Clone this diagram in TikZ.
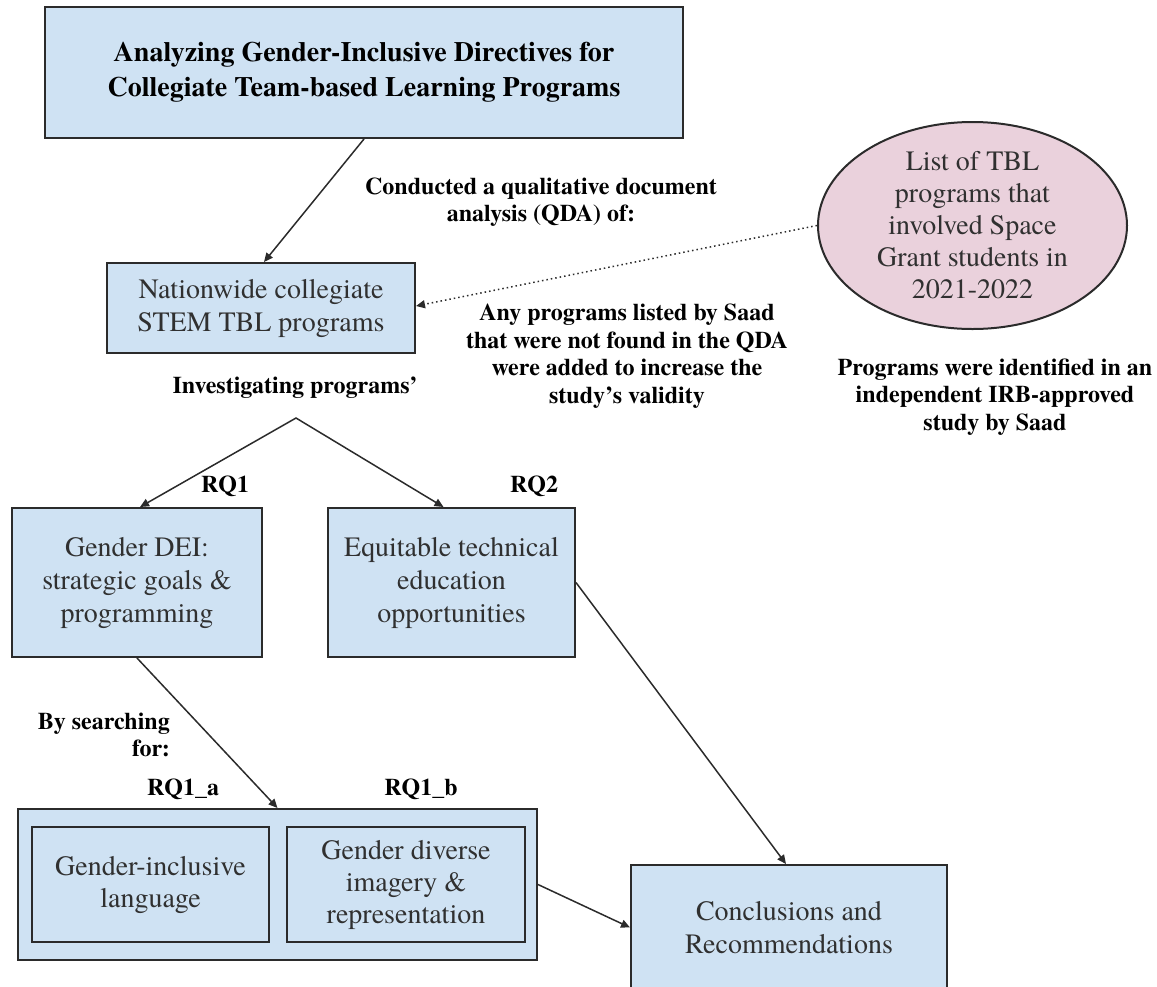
\documentclass[tikz,border=0pt]{standalone}
\usepackage{fontspec}
\setmainfont{texgyretermes}[Extension=.otf,UprightFont=*-regular,BoldFont=*-bold,ItalicFont=*-italic,BoldItalicFont=*-bolditalic]
\usetikzlibrary{arrows.meta,shapes.geometric}
\definecolor{boxblue}{HTML}{CFE2F3}
\definecolor{boxpink}{HTML}{EAD1DC}
\definecolor{edgecol}{HTML}{2B2B2B}
\definecolor{txtcol}{HTML}{303030}
\begin{document}
\begin{tikzpicture}[x=1pt,y=-1pt,
  box/.style={draw=edgecol,line width=2pt,fill=boxblue,inner sep=0pt,align=center,text=txtcol,font=\fontsize{28}{33}\selectfont},
  lbl/.style={align=center,inner sep=0pt,text=black,font=\bfseries\fontsize{24}{27.5}\selectfont},
  arr/.style={draw=edgecol,line width=1.5pt,-{Triangle[length=9pt,width=8pt]}},
  arrboth/.style={draw=edgecol,line width=1.5pt,{Triangle[length=9pt,width=8pt]}-{Triangle[length=9pt,width=8pt]}},
  dots/.style={dash pattern=on 1.5pt off 3pt}
]
\useasboundingbox (0,0) rectangle (1157,986);
\clip (0,0) rectangle (1157,986);

% boxes
\node[box,text=black,font=\bfseries\fontsize{28}{35}\selectfont,minimum width=638pt,minimum height=131pt] (title) at (364,72.5)
  {Analyzing Gender-Inclusive Directives for\\Collegiate Team-based Learning Programs};
\node[box,minimum width=308pt,minimum height=90pt] (nat) at (261,308)
  {Nationwide collegiate\\STEM TBL programs};
\node[draw=edgecol,line width=2pt,fill=boxpink,ellipse,minimum width=309pt,minimum height=207pt,inner sep=-12pt,align=center,text=txtcol,font=\fontsize{28}{32}\selectfont] (ell) at (972.5,225.5)
  {List of TBL\\programs that\\involved Space\\Grant students in\\2021-2022};
\node[box,minimum width=250pt,minimum height=149pt] (dei) at (137,582.5)
  {Gender DEI:\\strategic goals \&\\programming};
\node[box,minimum width=247pt,minimum height=149pt] (eq) at (451.5,582.5)
  {Equitable technical\\education\\opportunities};
\node[box,minimum width=519pt,minimum height=151pt] (cont) at (277.5,884.5) {};
\node[box,minimum width=237pt,minimum height=115pt,font=\fontsize{28}{32}\selectfont] (in1) at (150.5,884.5)
  {Gender-inclusive\\language};
\node[box,minimum width=238pt,minimum height=115pt,font=\fontsize{28}{32}\selectfont] (in2) at (406,884.5)
  {Gender diverse\\imagery \&\\representation};
\node[box,minimum width=316pt,minimum height=125pt] (conc) at (789,927.5)
  {Conclusions and\\Recommendations};

% labels
\node[lbl] (lconducted) at (541,202) {Conducted a qualitative document\\analysis (QDA) of:};
\node[lbl] (lany) at (627,356) {Any programs listed by Saad\\that were not found in the QDA\\were added to increase the\\study's validity};
\node[lbl] (lident) at (995,397) {Programs were identified in an\\independent IRB-approved\\study by Saad};
\node[lbl] (linv) at (295,388) {Investigating programs'};
\node[lbl] (lrq1) at (225,486) {RQ1};
\node[lbl] (lrq2) at (534,486) {RQ2};
\node[lbl,align=right,anchor=east] (lby) at (170,735) {By searching\\for:};
\node[lbl] (lrq1a) at (183,789) {RQ1\_a};
\node[lbl] (lrq1b) at (421,789) {RQ1\_b};

% connectors
\coordinate (apex) at (296,418);
\draw[arr] (title.south) -- ([xshift=3pt]nat.north);
\draw[arr,dots] (ell.west) -- ([yshift=2pt]nat.east);
\draw[arrboth] ([xshift=3pt]dei.north) -- (apex) -- ([xshift=-8pt]eq.north);
\draw[arr] (dei.south) -- (cont.north);
\draw[arr] (eq.east) -- ([xshift=-3pt]conc.north);
\draw[arr] (cont.east) -- (conc.west);
\end{tikzpicture}
\end{document}
